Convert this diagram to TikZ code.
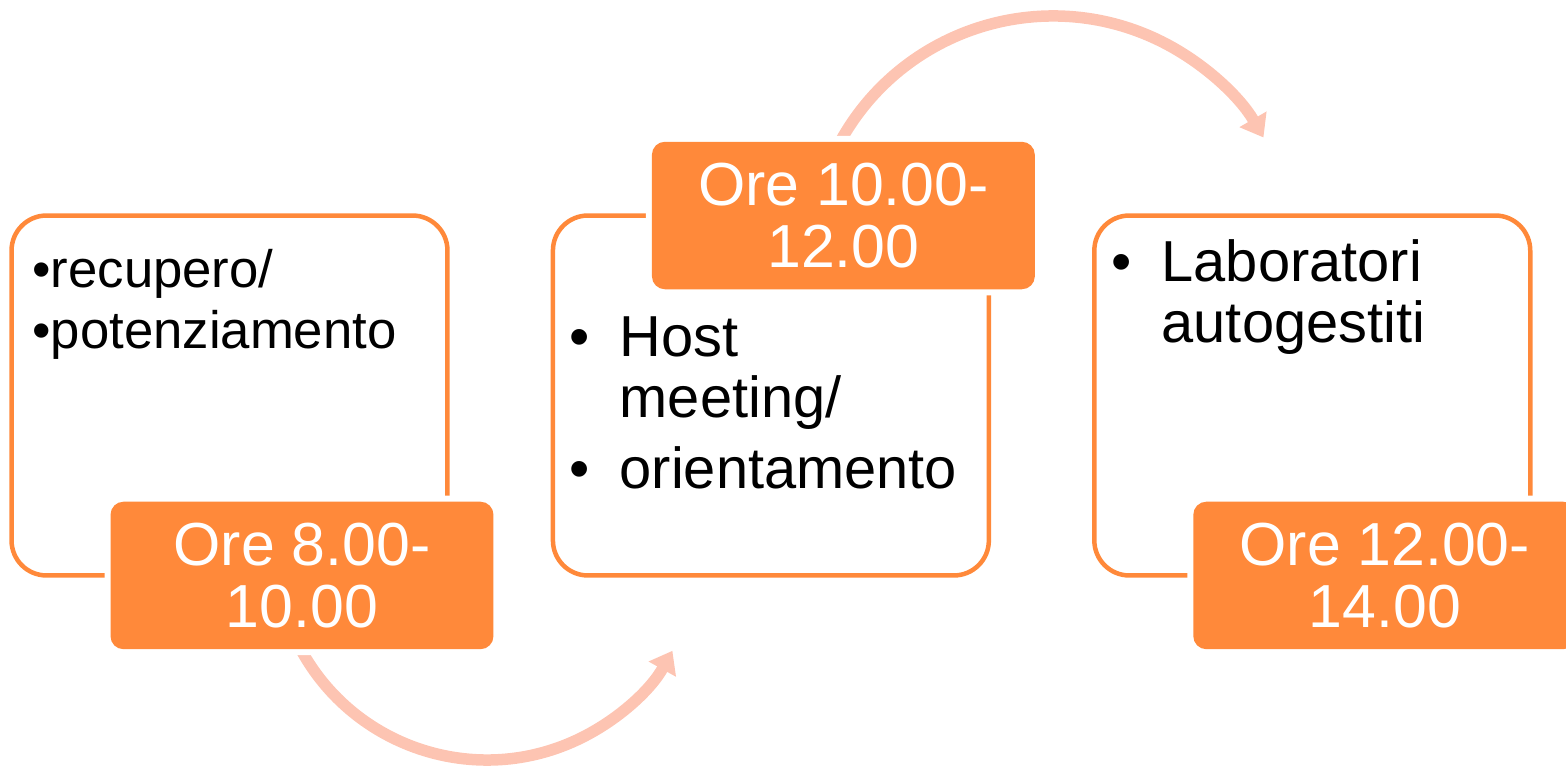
\documentclass[tikz,border=0pt]{standalone}
\usepackage{fontspec}
\setmainfont{Liberation Sans}
\usetikzlibrary{positioning,arrows.meta}
\definecolor{orng}{RGB}{255,137,58}
\definecolor{peach}{RGB}{253,196,178}

\begin{document}
\begin{tikzpicture}[x=0.02cm, y=0.02cm, node distance=10.83cm,
  box/.style={draw=orng, line width=0.09cm, rounded corners=0.7cm, minimum width=8.72cm, minimum height=7.2cm, outer sep=0pt},
  lbl/.style={fill=orng, text=white, rounded corners=0.26cm, minimum width=7.66cm, minimum height=2.95cm, align=center, font=\fontsize{34.6}{35.7}\selectfont, preaction={draw=white, line width=0.24cm}},
  txt/.style={anchor=base west, inner sep=0pt, align=left, font=\fontsize{32.9}{34.6}\selectfont},
  flow/.style={draw=peach, line width=0.23cm, -{Triangle[width=0.6cm, length=0.42cm]}}]
\useasboundingbox (0,0) rectangle (1566,767);
% boxes
\node[box] (b1) at (229.5,371.5) {};
\node[box] (b2) [right of=b1] {};
\node[box] (b3) [right of=b2] {};
% texts (base = last line)
\node[txt, font=\fontsize{30}{34.6}\selectfont] (t1) at ([shift={(20.5,-132.5)}]b1.north west) {•recupero/\\•potenziamento};
\node[txt] (t2) at ([shift={(16.5,-272.5)}]b2.north west) {\makebox[1cm][l]{•}Host\\\hspace*{1cm}meeting/\\[0.2cm]\makebox[1cm][l]{•}orientamento};
\node[txt] (t3) at ([shift={(17,-126.5)}]b3.north west) {\makebox[1cm][l]{•}Laboratori\\\hspace*{1cm}autogestiti};
% arrows
\coordinate (c1) at (487,219);
\coordinate (c2) at (1053,508);
\draw[flow] (c1) ++(205:212) arc[start angle=205, end angle=331, radius=212];
\draw[flow] (c2) ++(152:243) arc[start angle=152, end angle=30, radius=243];
% time labels
\node[lbl, xshift=1.45cm] (l1) at (b1.south) {Ore 8.00-\\10.00};
\node[lbl, xshift=1.45cm] (l2) at (b2.north) {Ore 10.00-\\12.00};
\node[lbl, xshift=1.45cm] (l3) at (b3.south) {Ore 12.00-\\14.00};
\end{tikzpicture}
\end{document}
